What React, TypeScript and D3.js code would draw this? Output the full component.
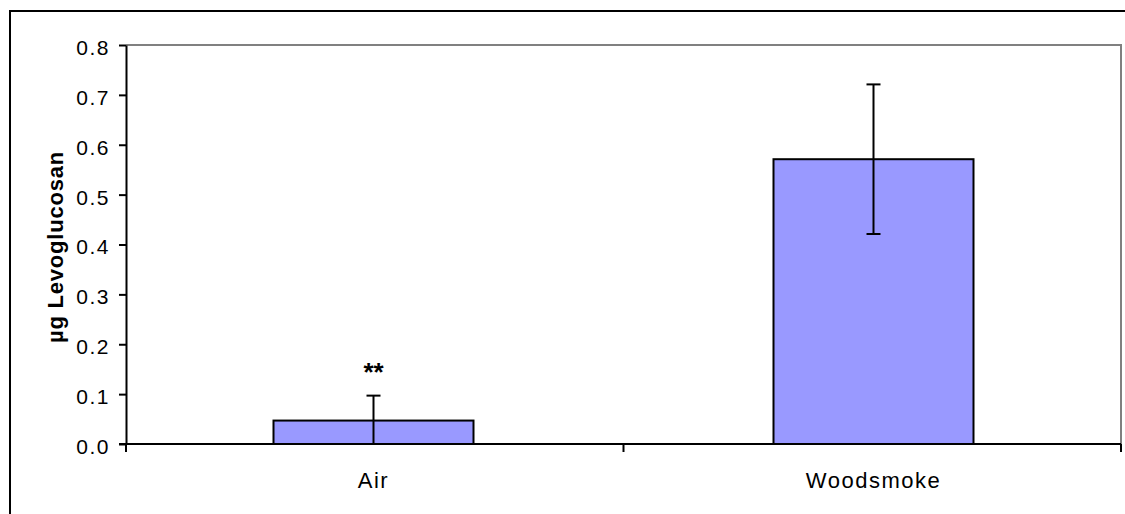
import React, { useEffect, useRef } from "react";
import * as d3 from "d3";

const categories = ["Air", "Woodsmoke"];
const means = [0.047, 0.571];
const errors = [0.05, 0.15];
const marks = ["**", ""];
const yTicks = [0, 0.1, 0.2, 0.3, 0.4, 0.5, 0.6, 0.7, 0.8];

export default function App() {
  const svgRef = useRef<SVGSVGElement>(null);

  useEffect(() => {
    const width = 1125;
    const height = 514;
    const plot = { left: 126, right: 1121, top: 45, bottom: 444 };
    const font = "Arial, 'Liberation Sans', sans-serif";

    const svg = d3
      .select(svgRef.current)
      .attr("width", width)
      .attr("height", height);
    svg.selectAll("*").remove();

    svg.append("rect").attr("width", width).attr("height", height).attr("fill", "#fff");

    // Outer chart frame (runs off the right and bottom edges)
    svg
      .append("path")
      .attr("d", `M10,${height + 5} L10,11 L${width + 5},11`)
      .attr("fill", "none")
      .attr("stroke", "#000")
      .attr("stroke-width", 2);

    const x = d3
      .scaleBand<string>()
      .domain(categories)
      .range([plot.left, plot.right])
      .paddingInner(0.6)
      .paddingOuter(0.295);
    const xCat = d3
      .scaleBand<string>()
      .domain(categories)
      .range([plot.left, plot.right]);
    const y = d3.scaleLinear().domain([0, 0.8]).range([plot.bottom, plot.top]);

    // Plot area top/right border (grey)
    svg
      .append("path")
      .attr("d", `M${plot.left},${plot.top} L${plot.right},${plot.top} L${plot.right},${plot.bottom}`)
      .attr("fill", "none")
      .attr("stroke", "#808080")
      .attr("stroke-width", 2);

    // Bars
    const data = categories.map((c, i) => ({ c, m: means[i], e: errors[i], s: marks[i] }));
    svg
      .append("g")
      .selectAll("rect")
      .data(data)
      .join("rect")
      .attr("x", (d) => x(d.c)!)
      .attr("y", (d) => y(d.m))
      .attr("width", x.bandwidth())
      .attr("height", (d) => y(0) - y(d.m))
      .attr("fill", "#9999FF")
      .attr("stroke", "#000")
      .attr("stroke-width", 2);

    // Error bars
    const eb = svg.append("g").attr("stroke", "#000").attr("stroke-width", 2);
    data.forEach((d) => {
      const cx = x(d.c)! + x.bandwidth() / 2;
      const lo = Math.max(0, d.m - d.e);
      const hi = d.m + d.e;
      eb.append("line").attr("x1", cx).attr("x2", cx).attr("y1", y(lo)).attr("y2", y(hi));
      eb.append("line").attr("x1", cx - 7).attr("x2", cx + 7).attr("y1", y(hi)).attr("y2", y(hi));
      if (d.m - d.e > 0) {
        eb.append("line").attr("x1", cx - 7).attr("x2", cx + 7).attr("y1", y(lo)).attr("y2", y(lo));
      }
      if (d.s) {
        svg
          .append("text")
          .attr("x", cx)
          .attr("y", y(hi) - 15)
          .attr("text-anchor", "middle")
          .style("font-family", font)
          .style("font-size", "26px")
          .style("font-weight", "bold")
          .text(d.s);
      }
    });

    // Y axis
    const yAxis = svg
      .append("g")
      .attr("transform", `translate(${plot.left},0)`)
      .call(d3.axisLeft(y).tickValues(yTicks).tickSize(7).tickPadding(9).tickSizeOuter(0).tickFormat(d3.format(".1f")));
    yAxis.select(".domain").attr("stroke-width", 2);
    yAxis.selectAll("line").attr("stroke-width", 2);
    yAxis
      .selectAll("text")
      .attr("dy", "0.45em")
      .style("font-family", font)
      .style("font-size", "21px")
      .style("letter-spacing", "1.5px")
      .attr("fill", "#000");

    // X axis: ticks at category boundaries
    const xg = svg.append("g").attr("stroke", "#000").attr("stroke-width", 2);
    xg.append("line").attr("x1", plot.left - 7).attr("x2", plot.right).attr("y1", plot.bottom).attr("y2", plot.bottom);
    const bounds = [...categories.map((c) => xCat(c)!), plot.right];
    bounds.forEach((b) => {
      xg.append("line").attr("x1", b).attr("x2", b).attr("y1", plot.bottom).attr("y2", plot.bottom + 8);
    });
    svg
      .append("g")
      .selectAll("text")
      .data(categories)
      .join("text")
      .attr("x", (c) => x(c)! + x.bandwidth() / 2)
      .attr("y", 488)
      .attr("text-anchor", "middle")
      .style("font-family", font)
      .style("font-size", "22px")
      .style("letter-spacing", "1.5px")
      .text((c) => c);

    // Y label
    svg
      .append("text")
      .attr("transform", `translate(63, 247) rotate(-90)`)
      .attr("text-anchor", "middle")
      .style("font-family", font)
      .style("font-size", "22px")
      .style("font-weight", "bold")
      .style("letter-spacing", "0.8px")
      .text("µg Levoglucosan");
  }, []);

  return <svg ref={svgRef} style={{ position: "absolute", left: 0, top: 0, display: "block" }} />;
}
